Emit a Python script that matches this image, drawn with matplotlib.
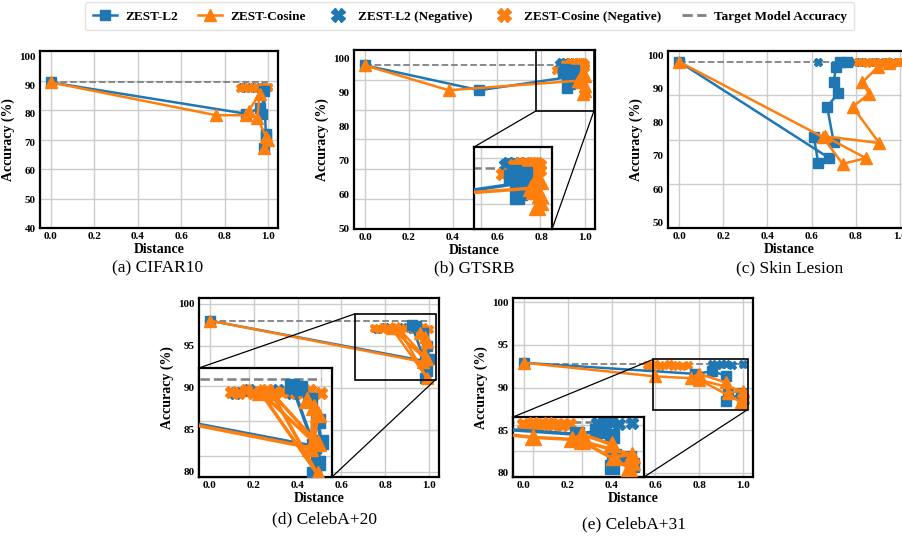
import matplotlib
matplotlib.use("Agg")
import matplotlib.pyplot as plt
from matplotlib.patches import Rectangle, ConnectionPatch
from matplotlib.lines import Line2D
from matplotlib.ticker import FixedLocator

plt.rcParams['font.family'] = ['Liberation Serif', 'DejaVu Serif']

BLAU = '#1f77b4'
ORANGE = '#ff7f0e'

# (a) CIFAR10
a_l2_x = [0.0, 0.90, 0.96, 0.97, 0.98, 0.99, 0.99, 0.98]
a_l2_y = [91.0, 80.0, 82.0, 80.0, 88.0, 72.0, 73.0, 68.0]
a_cos_x = [0.0, 0.76, 0.90, 0.91, 0.96, 0.95, 0.99, 1.00, 0.98]
a_cos_y = [91.0, 79.5, 79.5, 81.0, 87.0, 78.5, 72.0, 71.0, 68.0]
a_neg_l2_x = [0.88, 0.90, 0.92, 0.94, 0.96, 0.98, 1.00]
a_neg_l2_y = [89.5, 89.0, 89.5, 89.0, 89.5, 89.0, 89.5]
a_neg_cos_x = [0.87, 0.89, 0.91, 0.93, 0.95, 0.97, 0.99, 1.00]
a_neg_cos_y = [89.0, 89.5, 89.0, 89.5, 89.0, 89.5, 89.0, 89.5]
a_ziel = 91.0

# (b) GTSRB
b_l2_x = [0.0, 0.52, 0.92, 0.90, 0.93, 0.91, 0.94, 0.92, 0.95, 0.93]
b_l2_y = [98.0, 90.7, 94.5, 96.0, 93.0, 97.0, 95.0, 91.5, 96.5, 92.5]
b_cos_x = [0.0, 0.38, 0.97, 0.99, 1.00, 0.98, 1.00, 0.99, 1.00]
b_cos_y = [98.0, 90.7, 93.5, 96.0, 92.0, 93.0, 90.5, 89.5, 95.0]
b_neg_l2_x = [0.88, 0.89, 0.90, 0.91, 0.92, 0.93, 0.94, 0.95]
b_neg_l2_y = [98.5, 99.0, 98.8, 99.0, 98.6, 99.0, 98.8, 99.0]
b_neg_cos_x = [0.87, 0.91, 0.93, 0.95, 0.98, 0.99, 1.00, 1.00, 0.98, 0.99]
b_neg_cos_y = [96.5, 98.5, 99.0, 99.0, 99.0, 98.0, 97.5, 98.5, 97.0, 99.0]
b_ziel = 98.0

# (c) Skin Lesion
c_l2_x = [0.0, 0.68, 0.63, 0.61, 0.70, 0.67, 0.72, 0.70, 0.71, 0.73, 0.76]
c_l2_y = [98.0, 69.3, 67.8, 75.6, 74.0, 84.6, 88.6, 92.0, 96.5, 98.0, 98.0]
c_cos_x = [0.0, 0.65, 0.74, 0.845, 0.66, 0.906, 0.785, 0.86, 0.83, 0.90, 0.95]
c_cos_y = [98.0, 75.6, 67.6, 69.3, 75.8, 73.8, 84.6, 88.4, 91.9, 96.5, 97.5]
c_neg_l2_x = [0.63, 0.76, 0.79, 0.82, 0.85, 0.88, 0.91, 0.94, 0.97, 1.00]
c_neg_l2_y = [98.0, 98.0, 98.0, 98.0, 98.0, 98.0, 98.0, 98.0, 98.0, 98.0]
c_neg_cos_x = [0.81, 0.83, 0.85, 0.87, 0.89, 0.91, 0.93, 0.95, 0.97, 0.99, 1.00]
c_neg_cos_y = [97.8, 98.0, 97.6, 98.0, 97.8, 97.6, 98.0, 97.8, 97.6, 98.0, 97.8]
c_ziel = 98.0

# (d) CelebA+20
d_l2_x = [0.0, 0.98, 0.92, 0.94, 0.97, 0.99, 1.00, 0.99, 0.98]
d_l2_y = [98.0, 93.2, 97.5, 97.4, 96.5, 95.0, 93.5, 92.0, 91.2]
d_cos_x = [0.0, 0.97, 0.98, 0.96, 0.99, 0.98, 0.83, 0.99, 0.86, 0.99]
d_cos_y = [98.0, 93.1, 96.0, 96.5, 95.5, 93.5, 97.1, 91.2, 97.1, 93.4]
d_neg_l2_x = [0.76, 0.80, 0.84, 0.88, 0.92, 0.95]
d_neg_l2_y = [97.0, 97.2, 97.0, 97.2, 97.0, 97.1]
d_neg_cos_x = [0.75, 0.77, 0.79, 0.81, 0.83, 0.85, 0.87, 0.89, 0.93, 0.97, 1.00]
d_neg_cos_y = [97.1, 97.0, 97.2, 97.0, 97.1, 97.2, 97.0, 97.1, 97.0, 97.2, 97.0]
d_ziel = 98.0

# (e) CelebA+31
e_l2_x = [0.0, 0.78, 0.86, 0.92, 0.93, 0.92, 0.99, 1.00]
e_l2_y = [92.9, 91.6, 91.9, 91.4, 89.5, 88.4, 89.3, 88.6]
e_cos_x = [0.0, 0.60, 0.76, 0.80, 0.92, 0.93, 1.00, 0.80, 0.99, 1.00]
e_cos_y = [92.9, 91.3, 91.1, 91.6, 90.6, 89.4, 89.6, 90.9, 88.3, 88.9]
e_neg_l2_x = [0.86, 0.88, 0.90, 0.92, 0.95, 1.00]
e_neg_l2_y = [92.7, 92.6, 92.8, 92.7, 92.6, 92.7]
e_neg_cos_x = [0.56, 0.58, 0.60, 0.62, 0.64, 0.66, 0.68, 0.70, 0.72, 0.75]
e_neg_cos_y = [92.6, 92.5, 92.7, 92.5, 92.6, 92.7, 92.5, 92.6, 92.5, 92.6]
e_ziel = 92.8

X_TICKS = [0.0, 0.2, 0.4, 0.6, 0.8, 1.0]


def Zeichnen(ax, d, f=1.0):
    """Zeichnet alle Serien eines Datensatzes in die Achse."""
    ax.hlines(d['ziel'], 0, 1, colors='gray', linestyles='--', lw=1.3 * f, zorder=2)
    ax.plot(d['neg_l2'][0], d['neg_l2'][1], ls='none', color=BLAU, marker='X', ms=6 * f, zorder=2.5)
    ax.plot(d['neg_cos'][0], d['neg_cos'][1], ls='none', color=ORANGE, marker='X', ms=6 * f, zorder=3)
    ax.plot(d['l2'][0], d['l2'][1], color=BLAU, marker='s', ms=7 * f, lw=1.8 * f, zorder=3.5)
    ax.plot(d['cos'][0], d['cos'][1], color=ORANGE, marker='^', ms=8 * f, lw=1.8 * f, zorder=4)


def Achse_Stil(ax, ylim, yticks, teile):
    ax.set_xlim(-0.05, 1.045)
    ax.set_ylim(ylim)
    ax.set_xticks(X_TICKS)
    ax.set_yticks(yticks)
    ax.grid(True, axis='x', color='#cccccc', lw=1)
    if teile:
        # horizontale Gitterlinien teilen die Achse gleichmaessig, unabhaengig von den Beschriftungen
        schritt = (ylim[1] - ylim[0]) / teile
        ax.yaxis.set_minor_locator(FixedLocator([ylim[0] + k * schritt for k in range(1, teile)]))
        ax.grid(True, axis='y', which='minor', color='#cccccc', lw=1)
    else:
        ax.grid(True, axis='y', color='#cccccc', lw=1)
    ax.set_axisbelow(True)
    for s in ax.spines.values():
        s.set_linewidth(1.6)
        s.set_color('black')
    ax.tick_params(which='both', length=0, labelsize=8, pad=3)
    for lab in ax.get_xticklabels() + ax.get_yticklabels():
        lab.set_fontweight('bold')
    ax.set_xlabel('Distance', fontsize=10, fontweight='bold', labelpad=1)
    ax.set_ylabel('Accuracy (%)', fontsize=10, fontweight='bold', labelpad=3)


def Lupe(fig, ax, d, pos, rahmen_x, rahmen_y, lupe_x, ecken):
    """Vergroesserter Ausschnitt mit Rahmen und Verbindungslinien."""
    ins = ax.inset_axes(pos)
    Zeichnen(ins, d, f=1.4)
    ins.set_xlim(lupe_x)
    ins.set_ylim(rahmen_y)
    ins.grid(True, color='#cccccc', lw=1)
    ins.set_axisbelow(True)
    ins.tick_params(length=0, labelleft=False, labelbottom=False)
    for s in ins.spines.values():
        s.set_linewidth(1.6)
        s.set_color('black')
    ax.add_patch(Rectangle((rahmen_x[0], rahmen_y[0]), rahmen_x[1] - rahmen_x[0], rahmen_y[1] - rahmen_y[0],
                           fill=False, ec='black', lw=1.2, zorder=6))
    for (xa, ya), (xb, yb) in ecken:
        con = ConnectionPatch(xyA=(rahmen_x[xa], rahmen_y[ya]), coordsA=ax.transData,
                              xyB=(xb, yb), coordsB=ins.transAxes, color='black', lw=0.9)
        fig.add_artist(con)
    return ins


def paket(l2x, l2y, cx, cy, nlx, nly, ncx, ncy, ziel):
    return {'l2': (l2x, l2y), 'cos': (cx, cy), 'neg_l2': (nlx, nly), 'neg_cos': (ncx, ncy), 'ziel': ziel}


fig = plt.figure(figsize=(9.02, 5.42), dpi=100)
W, H = 902, 542


def achse_px(x0, y0, x1, y1):
    return fig.add_axes([x0 / W, 1 - y1 / H, (x1 - x0) / W, (y1 - y0) / H])


ax_a = achse_px(40, 51, 278, 228)
ax_b = achse_px(354, 50, 595, 229)
ax_c = achse_px(668, 51, 910, 228)
ax_d = achse_px(199, 298, 439, 477)
ax_e = achse_px(513, 298, 753, 477)

A = paket(a_l2_x, a_l2_y, a_cos_x, a_cos_y, a_neg_l2_x, a_neg_l2_y, a_neg_cos_x, a_neg_cos_y, a_ziel)
B = paket(b_l2_x, b_l2_y, b_cos_x, b_cos_y, b_neg_l2_x, b_neg_l2_y, b_neg_cos_x, b_neg_cos_y, b_ziel)
C = paket(c_l2_x, c_l2_y, c_cos_x, c_cos_y, c_neg_l2_x, c_neg_l2_y, c_neg_cos_x, c_neg_cos_y, c_ziel)
D = paket(d_l2_x, d_l2_y, d_cos_x, d_cos_y, d_neg_l2_x, d_neg_l2_y, d_neg_cos_x, d_neg_cos_y, d_ziel)
E = paket(e_l2_x, e_l2_y, e_cos_x, e_cos_y, e_neg_l2_x, e_neg_l2_y, e_neg_cos_x, e_neg_cos_y, e_ziel)

for ax, dat, ylim, yt, teile in [
    (ax_a, A, (40, 102), [40, 50, 60, 70, 80, 90, 100], 6),
    (ax_b, B, (50, 102.5), [50, 60, 70, 80, 90, 100], 6),
    (ax_c, C, (48.5, 101.2), [50, 60, 70, 80, 90, 100], 4),
    (ax_d, D, (79.4, 100.7), [80, 85, 90, 95, 100], 0),
    (ax_e, E, (79.5, 100.5), [80, 85, 90, 95, 100], 0),
]:
    Zeichnen(ax, dat)
    Achse_Stil(ax, ylim, yt, teile)

# Lupen: Ecke im Rechteck (x-index, y-index) -> Ecke der Lupe (Achsenkoordinaten)
Lupe(fig, ax_b, B, [0.498, 0.0, 0.324, 0.458], (0.776, 1.04), (84.6, 102.5), (0.776, 1.04),
     [((0, 0), (0, 1)), ((1, 0), (1, 0))])
Lupe(fig, ax_d, D, [0.0, 0.0, 0.554, 0.609], (0.66, 1.03), (91.0, 98.8), (0.66, 1.03),
     [((0, 1), (0, 1)), ((1, 0), (1, 0))])
Lupe(fig, ax_e, E, [0.0, 0.0, 0.546, 0.335], (0.59, 1.02), (87.4, 93.3), (0.52, 1.05),
     [((0, 1), (0, 1)), ((1, 0), (1, 0))])

# Untertitel
for x, y, txt in [(158, 268, '(a) CIFAR10'), (474, 268, '(b) GTSRB'), (790, 268, '(c) Skin Lesion'),
                  (325, 519, '(d) CelebA+20'), (634, 524, '(e) CelebA+31')]:
    fig.text(x / W, 1 - y / H, txt, ha='center', va='center', fontsize=12.5)

griffe = [
    Line2D([], [], color=BLAU, marker='s', ms=7, lw=1.8),
    Line2D([], [], color=ORANGE, marker='^', ms=8, lw=1.8),
    Line2D([], [], ls='none', color=BLAU, marker='X', ms=10),
    Line2D([], [], ls='none', color=ORANGE, marker='X', ms=10),
    Line2D([], [], color='gray', ls='--', lw=2),
]
namen = ['ZEST-L2', 'ZEST-Cosine', 'ZEST-L2 (Negative)', 'ZEST-Cosine (Negative)', 'Target Model Accuracy']
leg = fig.legend(griffe, namen, loc='upper center', bbox_to_anchor=(0.521, 0.998), ncol=5,
                 prop={'weight': 'bold', 'size': 9.5}, frameon=True, fancybox=True,
                 handlelength=1.8, columnspacing=1.55, handletextpad=0.6, borderpad=0.6,
                 borderaxespad=0.1)
leg.get_frame().set_edgecolor('#dddddd')

plt.savefig('out.png', dpi=100)
